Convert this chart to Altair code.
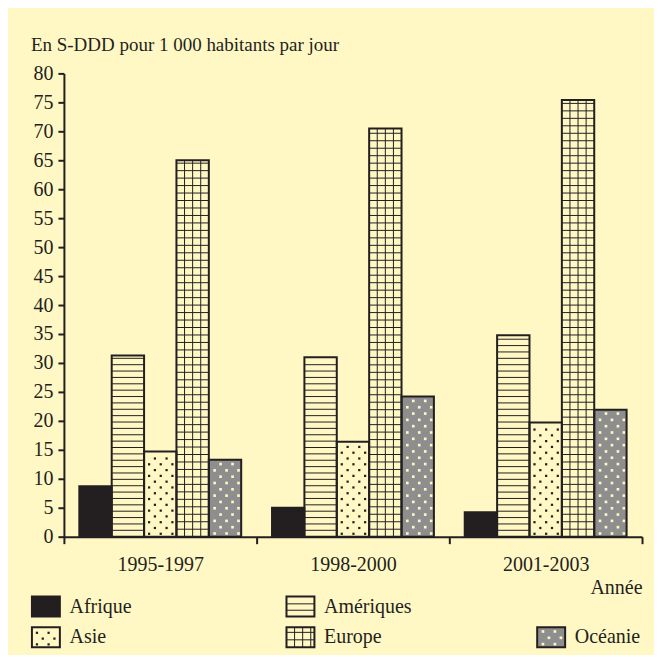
import altair as alt
import pandas as pd

# ---------------- data ----------------
groups = ["1995-1997", "1998-2000", "2001-2003"]
series = ["Afrique", "Amériques", "Asie", "Europe", "Océanie"]
afrique = [8.7, 5.0, 4.2]
ameriques = [31.3, 31.0, 34.8]
asie = [14.7, 16.4, 19.7]
europe = [65.0, 70.5, 75.4]
oceanie = [13.3, 24.2, 21.9]
y_ticks = list(range(0, 81, 5))
title_text = "En S-DDD pour 1 000 habitants par jour"
x_title = "Année"

# ---------------- layout / style ----------------
DARK = "#231F20"
BG = "#FFF8C5"
GRAY = "#8E8E8E"
FONT = "Liberation Serif"
PAD = 0.08          # group padding (x units)
BW = 0.168          # bar width (x units)
LEG_COL_X = [-0.166, 1.155, 2.456]
LEG_ROW_Y = [-13.8, -19.1]
SW_W, SW_H = 0.145, 3.45
LEG_SLOT = {"Afrique": (0, 0), "Amériques": (0, 1), "Asie": (1, 0),
            "Europe": (1, 1), "Océanie": (1, 2)}
H_STEP = {"Amériques": 1.1, "Europe": 1.29}
V_STEP = 0.042

values = [afrique, ameriques, asie, europe, oceanie]
rows = []
for si, s in enumerate(series):
    for gi, g in enumerate(groups):
        x0 = gi + PAD + si * BW
        rows.append(dict(series=s, kind="bar", x0=x0, x1=x0 + BW,
                         y0=0.0, y1=values[si][gi], tx=None, ty=None))
    r, c = LEG_SLOT[s]
    lx0 = LEG_COL_X[c]
    ly0 = LEG_ROW_Y[r]
    rows.append(dict(series=s, kind="legend", x0=lx0, x1=lx0 + SW_W,
                     y0=ly0, y1=ly0 + SW_H, tx=lx0 + SW_W + 0.05,
                     ty=ly0 + SW_H / 2))
df = pd.DataFrame(rows)

xs = alt.Scale(domain=[0, 3], nice=False, zero=False)
ys = alt.Scale(domain=[0, 80], nice=False, zero=False)

label_expr = " : ".join(
    [f"datum.value == {i} ? '{g}'" for i, g in enumerate(groups)]) + " : ''"

xaxis = alt.Axis(values=[0, 1, 2, 3], labelExpr=label_expr,
                 labelOffset={"condition": {"test": "datum.value < 3",
                                            "value": 96.5}, "value": 0},
                 labelFlush=False, labelOverlap=False, tickSize=7, grid=False,
                 title=x_title, titleAnchor="end", titleFont=FONT,
                 titleFontWeight="normal", titleFontSize=20, titlePadding=3,
                 titleColor=DARK, labelPadding=11, domainColor=DARK,
                 tickColor=DARK, domainWidth=2, tickWidth=2, labelFont=FONT,
                 labelFontSize=20, labelColor=DARK)
yaxis = alt.Axis(values=y_ticks, tickSize=6, labelPadding=5, grid=False,
                 title=None, domainColor=DARK, tickColor=DARK, domainWidth=2,
                 tickWidth=2, labelFont=FONT, labelFontSize=20,
                 labelColor=DARK)


def X(f):
    return alt.X(f, type="quantitative", scale=xs, axis=xaxis)


def Y(f):
    return alt.Y(f, type="quantitative", scale=ys, axis=yaxis)


base = alt.Chart(df)

fills = base.mark_rect(strokeWidth=0).encode(
    x=X("x0"), x2="x1", y=Y("y0"), y2="y1",
    fill=alt.Fill("series:N", scale=alt.Scale(
        domain=series, range=[DARK, BG, BG, BG, GRAY]), legend=None),
)

step_expr = " : ".join(
    [f"datum.series == '{k}' ? {v}" for k, v in H_STEP.items()]) + " : 1"
hlines = base.transform_filter(
    alt.FieldOneOfPredicate(field="series", oneOf=list(H_STEP.keys()))
).transform_calculate(
    step=step_expr
).transform_calculate(
    hy="sequence(datum.y0 + datum.step, datum.y1 - 0.3, datum.step)"
).transform_flatten(["hy"]).mark_rule(color=DARK, strokeWidth=1).encode(
    x=X("x0"), x2="x1", y=Y("hy"))

vlines = base.transform_filter(
    alt.datum.series == "Europe"
).transform_calculate(
    vx=f"sequence(datum.x0 + {V_STEP}, datum.x1 - 0.01, {V_STEP})"
).transform_flatten(["vx"]).mark_rule(color=DARK, strokeWidth=1).encode(
    x=X("vx"), y=Y("y0"), y2="y1")


def dots(name, rstep, cstep, xoff, yoff, color, size):
    return base.transform_filter(
        alt.datum.series == name
    ).transform_calculate(
        r=f"sequence(0, ceil((datum.y1 - datum.y0) / {rstep}))"
    ).transform_flatten(["r"]).transform_calculate(
        c="sequence(0, 4)"
    ).transform_flatten(["c"]).transform_calculate(
        dx=f"datum.x0 + {xoff} + (datum.c + (datum.r % 2) * 0.5) * {cstep}",
        dy=f"datum.y0 + {yoff} + datum.r * {rstep}",
    ).transform_filter(
        "datum.dx < datum.x1 - 0.012 && datum.dy < datum.y1 - 0.4"
    ).mark_square(size=size, color=color, opacity=1).encode(
        x=X("dx"), y=Y("dy"))


asie_dots = dots("Asie", 1.0, 0.0605, 0.026, 0.5, DARK, 5)
oce_dots = dots("Océanie", 1.09, 0.062, 0.03, 0.55, BG, 7)

outline = base.mark_rect(fillOpacity=0, stroke=DARK, strokeWidth=2).encode(
    x=X("x0"), x2="x1", y=Y("y0"), y2="y1")

legend_text = base.transform_filter(
    alt.datum.kind == "legend"
).mark_text(align="left", baseline="middle", font=FONT, fontSize=20,
            color=DARK).encode(x=X("tx"), y=Y("ty"), text="series:N")

chart = alt.layer(
    fills, hlines, vlines, asie_dots, oce_dots, outline, legend_text
).properties(
    width=579, height=464,
    padding={"left": 22, "top": 28, "right": 11, "bottom": 6},
    title=alt.Title(title_text, anchor="start", frame="bounds", font=FONT,
                    fontSize=19, fontWeight="normal", color=DARK, offset=8),
).configure(background=BG).configure_view(stroke=None)

chart.save("out.html", embed_options={"renderer": "svg", "actions": False})
